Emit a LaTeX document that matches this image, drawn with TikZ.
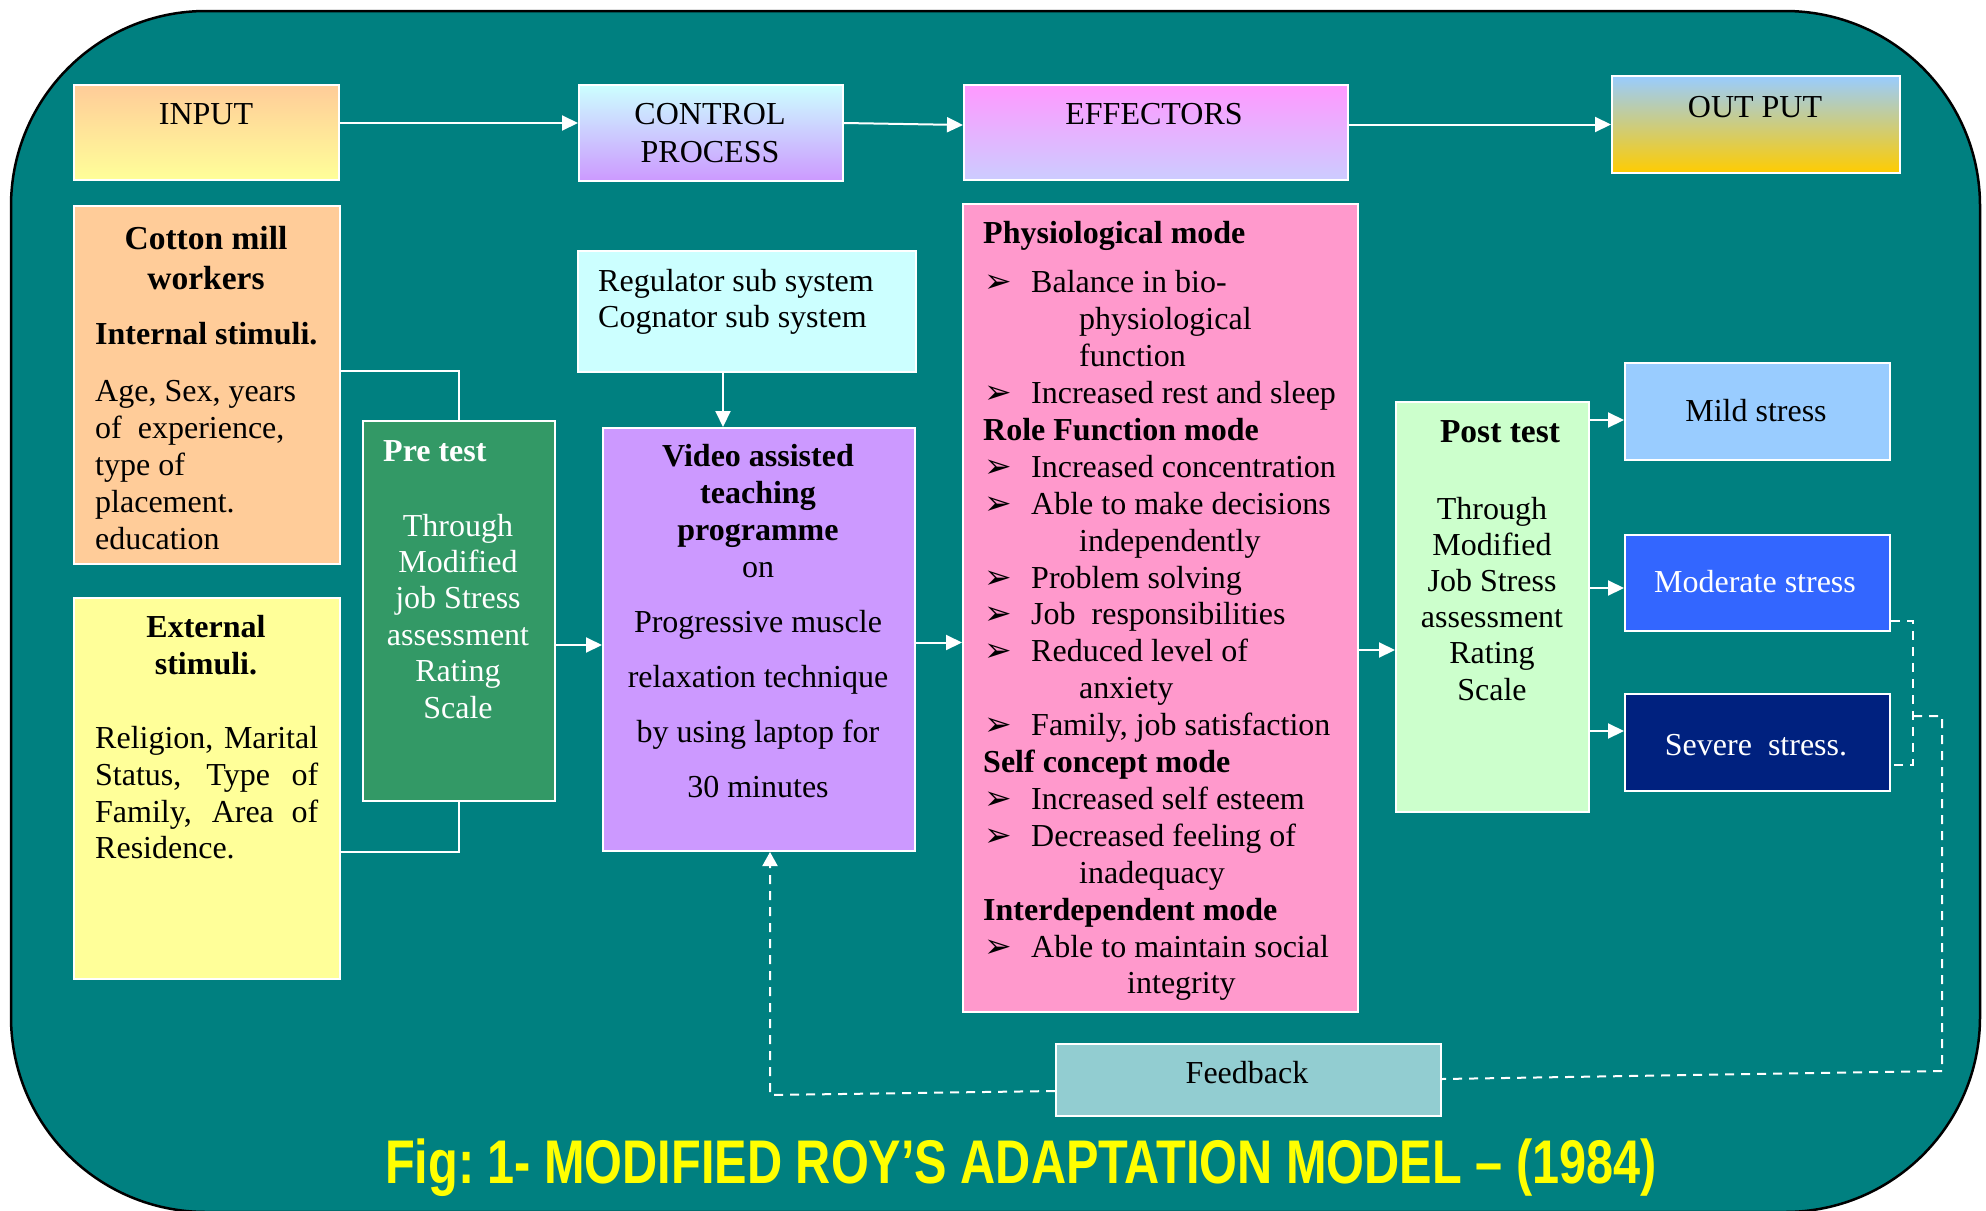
\documentclass[tikz,border=0pt]{standalone}
\usepackage{fontspec}
\usepackage{graphicx}
\setmainfont{Liberation Serif}
\newfontfamily\dejavu{DejaVu Sans}
\newfontfamily\titlefont{Liberation Sans}
\usetikzlibrary{arrows.meta}
\definecolor{bgteal}{HTML}{008080}
\definecolor{peach}{HTML}{FFCC99}
\definecolor{lyellow}{HTML}{FFFF99}
\definecolor{lcyan}{HTML}{CCFFFF}
\definecolor{lilac}{HTML}{CC99FF}
\definecolor{pinkmag}{HTML}{FF99FF}
\definecolor{lavender}{HTML}{CCCCFF}
\definecolor{skyblue}{HTML}{99CCFF}
\definecolor{gold}{HTML}{FFCC00}
\definecolor{pregreen}{HTML}{339966}
\definecolor{effpink}{HTML}{FF99CC}
\definecolor{mint}{HTML}{CCFFCC}
\definecolor{modblue}{HTML}{3366FF}
\definecolor{navyblue}{HTML}{00217F}
\definecolor{fbcol}{HTML}{92CDD1}
\definecolor{titleyellow}{HTML}{FFFF00}
\begin{document}
\begin{tikzpicture}[x=1pt,y=-1pt,
  box/.style={draw=white, line width=2pt, inner sep=0pt, anchor=north west},
  t/.style={inner sep=0pt, anchor=base, font=\fontsize{32}{36.9}\selectfont},
  tl/.style={t, anchor=base west},
  tb/.style={t, font=\fontsize{32}{36.9}\selectfont\bfseries},
  tbl/.style={tb, anchor=base west},
  bul/.style={inner sep=0pt, anchor=base west, font=\fontsize{33}{36}\dejavu},
  arr/.style={draw=white, line width=2pt, -{Triangle[length=16pt,width=15pt]}},
  link/.style={draw=white, line width=2pt},
  fbdash/.style={draw=white, line width=2pt, dash pattern=on 9pt off 7pt},
]
\useasboundingbox (0,0) rectangle (1986,1210);
\path[fill=white] (0,0) rectangle (1986,1210);
\draw[fill=bgteal, draw=black, line width=2.5pt, rounded corners=195pt] (11,11) rectangle (1980,1212);

% ---- top row ----
\node[box, minimum width=265pt, minimum height=95pt, top color=peach, bottom color=lyellow] (input) at (73,84) {};
\node[box, minimum width=264pt, minimum height=96pt, top color=lcyan, bottom color=lilac] (control) at (578,84) {};
\node[box, minimum width=384pt, minimum height=95pt, top color=pinkmag, bottom color=lavender] (effectors) at (963,84) {};
\node[box, minimum width=288pt, minimum height=97pt, top color=skyblue, bottom color=gold] (output) at (1611,75) {};
\node[t] (tinput) at (206,124) {INPUT};
\node[t] (tcontrol1) at (710,124) {CONTROL};
\node[t] (tcontrol2) at (710,162) {PROCESS};
\node[t] (teffectors) at (1154,124) {EFFECTORS};
\node[t] (toutput) at (1755,117) {OUT PUT};

% ---- boxes ----
\node[box, minimum width=266pt, minimum height=358pt, fill=peach] (cotton) at (73,205) {};
\node[box, minimum width=266pt, minimum height=381pt, fill=lyellow] (external) at (73,597) {};
\node[box, minimum width=192pt, minimum height=380pt, fill=pregreen] (pretest) at (362,420) {};
\node[box, minimum width=338pt, minimum height=121pt, fill=lcyan] (regulator) at (577,250) {};
\node[box, minimum width=312pt, minimum height=423pt, fill=lilac] (video) at (602,427) {};
\node[box, minimum width=395pt, minimum height=808pt, fill=effpink] (effbox) at (962,203) {};
\node[box, minimum width=193pt, minimum height=410pt, fill=mint] (posttest) at (1395,401) {};
\node[box, minimum width=265pt, minimum height=97pt, fill=skyblue] (mild) at (1624,362) {};
\node[box, minimum width=265pt, minimum height=96pt, fill=modblue] (moderate) at (1624,534) {};
\node[box, minimum width=265pt, minimum height=97pt, fill=navyblue] (severe) at (1624,693) {};
\node[box, minimum width=385pt, minimum height=72pt, fill=fbcol] (feedback) at (1055,1043) {};

% ---- cotton mill text ----
\node[tb, font=\fontsize{33.5}{38}\selectfont\bfseries] (c1) at (206,249) {Cotton mill};
\node[tb, font=\fontsize{33.5}{38}\selectfont\bfseries] (c2) at (206,289.5) {workers};
\node[tbl] (c3) at (95,344) {Internal stimuli.};
\node[tl] (c4) at (95,401.6) {Age, Sex, years};
\node[tl] (c5) at (95,438.8) {of\ \ experience,};
\node[tl] (c6) at (95,475) {type of};
\node[tl] (c7) at (95,512.6) {placement.};
\node[tl] (c8) at (95,549.7) {education};

% ---- external text ----
\node[tb] (x1) at (206,637.5) {External};
\node[tb] (x2) at (206,674.4) {stimuli.};
\node[tl] (x3) at (95,748) {\makebox[223pt][s]{Religion, Marital}};
\node[tl] (x4) at (95,785) {\makebox[223pt][s]{Status, Type of}};
\node[tl] (x5) at (95,822) {\makebox[223pt][s]{Family, Area of}};
\node[tl] (x6) at (95,858) {Residence.};

% ---- pre test text ----
\node[tbl, text=white] (p0) at (383,461) {Pre test};
\foreach \s [count=\i from 0] in {Through, Modified, job Stress, assessment, Rating, Scale}
  \node[t, text=white] (p\i a) at (458,536+36.4*\i) {\s};

% ---- regulator ----
\node[tl] (r1t) at (598,291) {Regulator sub system};
\node[tl] (r2t) at (598,327) {Cognator sub system};

% ---- video ----
\node[tb] (v1t) at (758,466.7) {Video assisted};
\node[tb] (v2t) at (758,503.5) {teaching};
\node[tb] (v3t) at (758,540) {programme};
\node[t] (v4t) at (758,577.8) {on};
\node[t] (v5t) at (758,632) {Progressive muscle};
\node[t] (v6t) at (758,687) {relaxation technique};
\node[t] (v7t) at (758,742) {by using laptop for};
\node[t] (v8t) at (758,797) {30 minutes};

% ---- effectors list ----
\node[tbl] (e0) at (983,243.6) {Physiological mode};
\foreach \k/\kind/\s in {1/B/{Balance in bio-}, 2/C/{physiological}, 3/C/{function},
  4/B/{Increased rest and sleep}, 5/H/{Role Function mode}, 6/B/{Increased concentration},
  7/B/{Able to make decisions}, 8/C/{independently}, 9/B/{Problem solving},
  10/B/{Job\ \ responsibilities}, 11/B/{Reduced level of}, 12/C/{anxiety},
  13/B/{Family, job satisfaction}, 14/H/{Self concept mode}, 15/B/{Increased self esteem},
  16/B/{Decreased feeling of}, 17/C/{inadequacy}, 18/H/{Interdependent mode},
  19/B/{Able to maintain social}, 20/D/{integrity}}{
  \pgfmathsetmacro{\yy}{292.8+36.9*(\k-1)}
  \if\kind B
    \node[bul] (eb\k) at (984,\yy) {➢};
    \node[tl] (e\k) at (1031,\yy) {\s};
  \fi
  \if\kind C
    \node[tl] (e\k) at (1079,\yy) {\s};
  \fi
  \if\kind D
    \node[tl] (e\k) at (1127,\yy) {\s};
  \fi
  \if\kind H
    \node[tbl] (e\k) at (983,\yy) {\s};
  \fi
}

% ---- post test ----
\node[tb, font=\fontsize{33.5}{38}\selectfont\bfseries] (q0) at (1500,442.3) {Post test};
\foreach \s [count=\i from 0] in {Through, Modified, Job Stress, assessment, Rating, Scale}
  \node[t] (q\i a) at (1492,519+36.2*\i) {\s};

% ---- outcomes ----
\node[t] (tmild) at (1756,421.7) {Mild stress};
\node[t, text=white] (tmod) at (1755,592.3) {Moderate stress};
\node[t, text=white] (tsev) at (1756,755.7) {Severe\ \ stress.};
\node[t] (tfb) at (1247,1083) {Feedback};

% ---- title ----
\node[inner sep=0pt, anchor=base west, text=titleyellow] (title) at (385,1183)
  {\resizebox{1271pt}{44.7pt}{\titlefont\bfseries Fig:\kern-0.1em{} 1- MODIFIED ROY’S ADAPTATION MODEL – (1984)}};

% ---- connectors ----
\draw[arr] ([yshift=9.5pt]input.east) -- ([yshift=10pt]control.west);
\draw[arr] ([yshift=10pt]control.east) -- ([yshift=7.5pt]effectors.west);
\draw[arr] (effectors.east |- output.west) -- (output.west);

\draw[link] ([yshift=14pt]cotton.east) -| (pretest.north);
\draw[link] ([yshift=-63.5pt]external.east) -| (pretest.south);

\coordinate (pa) at ([yshift=-34pt]pretest.east);
\draw[arr] (pa) -- (pa -| video.west);
\coordinate (ra) at ([xshift=-24pt]regulator.south);
\draw[arr] (ra) -- (ra |- video.north);
\coordinate (va) at ([yshift=-3pt]video.east);
\draw[arr] (va) -- (va -| effbox.west);
\coordinate (ea) at ([yshift=-42pt]effbox.east);
\draw[arr] (ea) -- (ea -| posttest.west);

\coordinate (ma) at ([yshift=-8.5pt]mild.west);
\draw[arr] (ma -| posttest.east) -- (ma);
\coordinate (mo) at ([yshift=-5pt]moderate.west);
\draw[arr] (mo -| posttest.east) -- (mo);
\coordinate (se) at ([yshift=11.5pt]severe.west);
\draw[arr] (se -| posttest.east) -- (se);

% ---- feedback loop ----
\coordinate (d1) at ([yshift=-38pt]moderate.east);
\coordinate (d2) at ([yshift=-22.5pt]severe.east);
\coordinate (j1) at (1913,716);
\coordinate (j2) at (1942,1071);
\draw[fbdash] (d1) -- (d1 -| j1) -- (d2 -| j1) -- (d2);
\draw[fbdash] (j1) -- (j1 -| j2) -- (j2) -- ([yshift=1pt]feedback.east);
\coordinate (fl) at ([yshift=-11pt]feedback.west);
\coordinate (j3) at (770,1095);
\draw[fbdash, -{Triangle[length=14pt,width=15pt]}] (fl) -- (j3) -- (j3 |- video.south);
\end{tikzpicture}
\end{document}
